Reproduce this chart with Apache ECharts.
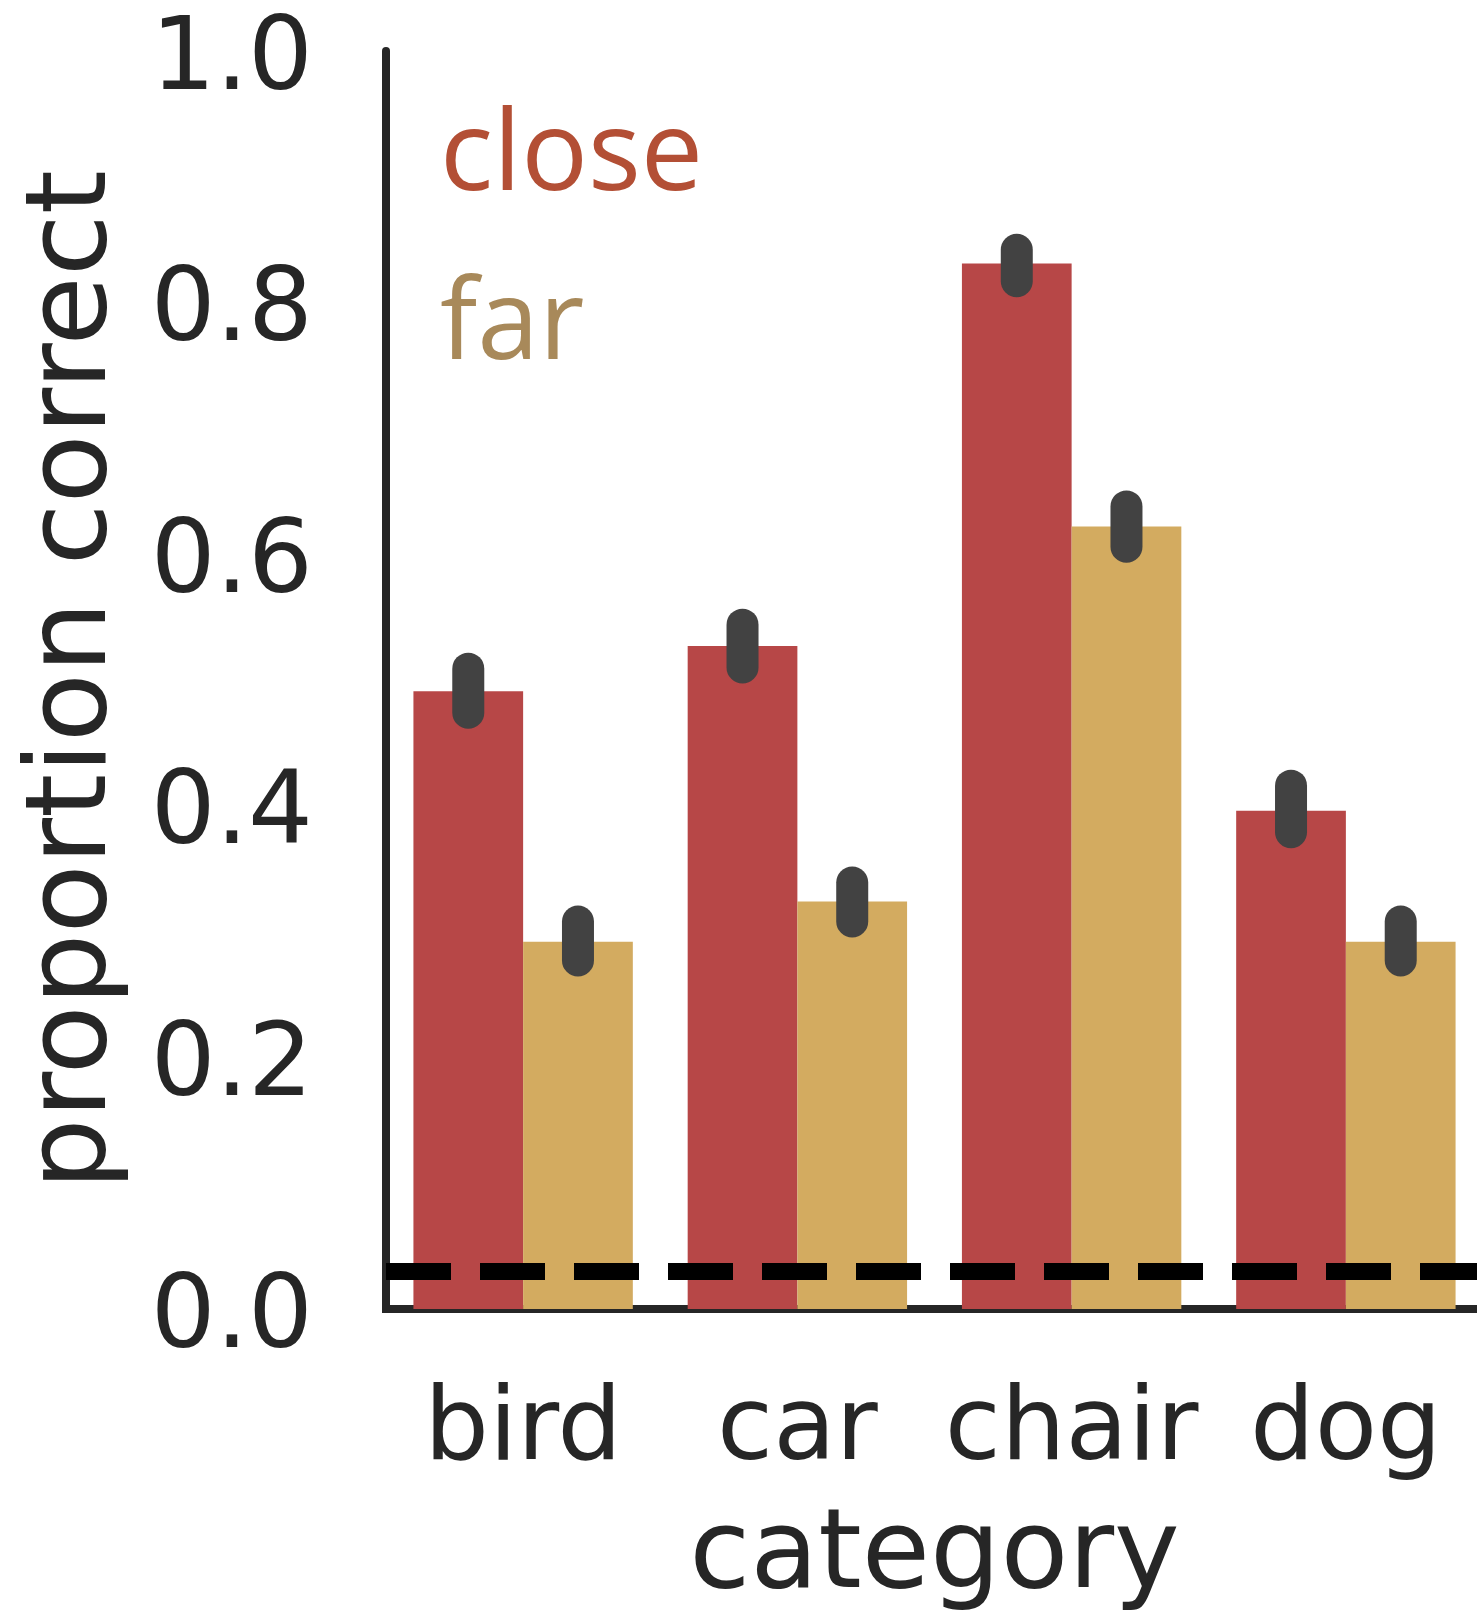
<!DOCTYPE html>
<html>
<head>
<meta charset="utf-8">
<script src="https://cdn.jsdelivr.net/npm/echarts@6/dist/echarts.min.js"></script>
<style>
  html, body { margin: 0; padding: 0; background: #ffffff; overflow: hidden; }
  #chart { width: 1500px; height: 1611px; }
</style>
</head>
<body>
<div id="chart"></div>
<script>
// ---- data ----
const categories = ['bird', 'car', 'chair', 'dog'];
const seriesNames = ['close', 'far'];
const closeValues = [0.491, 0.527, 0.831, 0.396];
const farValues = [0.292, 0.324, 0.622, 0.292];
const closeLow = [0.474, 0.510, 0.817, 0.379];
const closeHigh = [0.509, 0.544, 0.842, 0.416];
const farLow = [0.277, 0.308, 0.606, 0.277];
const farHigh = [0.308, 0.339, 0.638, 0.308];
const chanceLevel = 0.031;
const yTickLabels = ['0.0', '0.2', '0.4', '0.6', '0.8', '1.0'];

const colorClose = '#b74747';
const colorFar = '#d3ab60';
const textClose = '#b34f35';
const textFar = '#a8895a';
const inkColor = '#262626';
const errColor = '#424242';

function errSeries(name, low, high, sign) {
  return {
    type: 'custom',
    name: name + ' CI',
    silent: true,
    z: 5,
    data: categories.map((c, i) => [i, low[i], high[i]]),
    encode: { x: 0, y: [1, 2] },
    renderItem: function (params, api) {
      const band = api.size([1, 0])[0];
      const p1 = api.coord([api.value(0), api.value(1)]);
      const p2 = api.coord([api.value(0), api.value(2)]);
      const x = p1[0] + sign * band * 0.2;
      return {
        type: 'line',
        shape: { x1: x, y1: p1[1], x2: x, y2: p2[1] },
        style: { stroke: errColor, lineWidth: 32, lineCap: 'round' }
      };
    }
  };
}

const chart = echarts.init(document.getElementById('chart'), null, { renderer: 'canvas' });
chart.setOption({
  animation: false,
  backgroundColor: '#ffffff',
  textStyle: { fontFamily: 'DejaVu Sans' },
  grid: { left: 386, top: 51, width: 1097, bottom: 302, containLabel: false, outerBoundsMode: 'none' },
  legend: {
    orient: 'vertical',
    left: 430,
    top: 98,
    icon: 'none',
    itemWidth: 0,
    itemHeight: 0,
    itemGap: 58,
    selectedMode: false,
    textStyle: { fontFamily: 'Open Sans', fontSize: 111 },
    data: [
      { name: 'close', textStyle: { color: textClose } },
      { name: 'far', textStyle: { color: textFar } }
    ]
  },
  xAxis: {
    type: 'category',
    data: categories,
    boundaryGap: true,
    name: 'category',
    nameLocation: 'middle',
    nameGap: 194,
    nameTextStyle: { fontSize: 111, color: inkColor, fontFamily: 'DejaVu Sans' },
    axisLine: { show: true, lineStyle: { color: inkColor, width: 8, cap: 'square' } },
    axisTick: { show: false },
    axisLabel: { interval: 0, hideOverlap: false, fontSize: 102, color: inkColor, margin: 72, fontFamily: 'DejaVu Sans' },
    splitLine: { show: false }
  },
  yAxis: {
    type: 'value',
    min: 0,
    max: 1,
    interval: 0.2,
    name: 'proportion correct',
    nameLocation: 'middle',
    nameRotate: 90,
    nameGap: 254,
    nameTextStyle: { fontSize: 113, color: inkColor, fontFamily: 'DejaVu Sans' },
    axisLine: { show: true, lineStyle: { color: inkColor, width: 8 } },
    axisTick: { show: false },
    axisLabel: {
      fontSize: 102, color: inkColor, margin: 73, fontFamily: 'DejaVu Sans',
      verticalAlign: 'top',
      lineHeight: 22,
      formatter: function (v) { return yTickLabels[Math.round(v / 0.2)]; }
    },
    splitLine: { show: false }
  },
  series: [
    {
      type: 'bar',
      name: seriesNames[0],
      data: closeValues,
      itemStyle: { color: colorClose },
      barGap: '0%',
      barCategoryGap: '20%',
      z: 2,
      markLine: {
        silent: true,
        symbol: ['none', 'none'],
        label: { show: false },
        lineStyle: { color: '#000000', width: 17, type: [65, 29] },
        data: [{ yAxis: chanceLevel }],
        z: 3
      }
    },
    {
      type: 'bar',
      name: seriesNames[1],
      data: farValues,
      itemStyle: { color: colorFar },
      barGap: '0%',
      barCategoryGap: '20%',
      z: 2
    },
    errSeries('close', closeLow, closeHigh, -1),
    errSeries('far', farLow, farHigh, 1)
  ]
});
</script>
</body>
</html>
